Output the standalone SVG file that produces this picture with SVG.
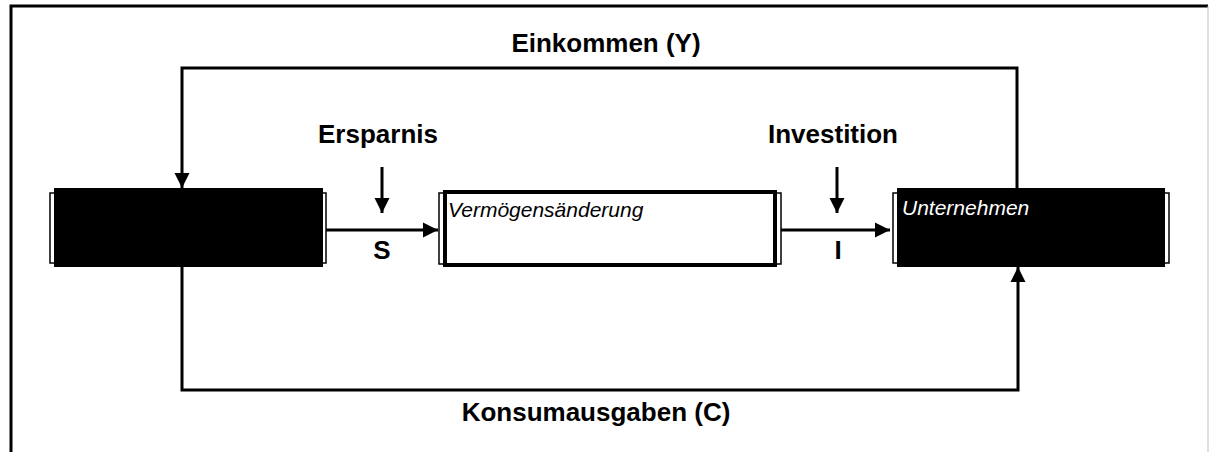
<svg xmlns="http://www.w3.org/2000/svg" width="1209" height="452" viewBox="0 0 1209 452">
<style>
.lbl{font-family:"Liberation Sans",Arial,sans-serif;font-weight:bold;font-size:26px;fill:#000;text-anchor:middle}
.it{font-family:"Liberation Sans",Arial,sans-serif;font-style:italic;font-size:21px}
.ln{fill:none;stroke:#000;stroke-width:3}
.br{fill:#fff;stroke:#000;stroke-width:1.5}
</style>
<defs>
<marker id="ah" markerUnits="userSpaceOnUse" markerWidth="16" markerHeight="16" viewBox="0 0 16 16" refX="15" refY="8" orient="auto">
<path d="M0,0.5 L15,8 L0,15.5 Z" fill="#000"/>
</marker>
</defs>
<rect width="1209" height="452" fill="#fff"/>
<g id="frame">
<path d="M11,452 V6 H1208" fill="none" stroke="#000" stroke-width="3"/>
<line x1="1208" y1="6" x2="1208" y2="452" stroke="#c0c0c0" stroke-width="1"/>
</g>
<g id="haushalte">
<rect class="br" x="50" y="193" width="276" height="70"/>
<rect x="54" y="188" width="269" height="79" fill="#000"/>
</g>
<g id="vermoegen">
<rect class="br" x="439" y="193" width="342" height="71"/>
<rect x="445" y="192" width="330" height="73" fill="#fff" stroke="#000" stroke-width="4"/>
<text class="it" x="448" y="217" fill="#000">Vermögensänderung</text>
</g>
<g id="unternehmen">
<rect class="br" x="893" y="193" width="276" height="70"/>
<rect x="897" y="188" width="268" height="79" fill="#000"/>
<text class="it" x="902" y="215" fill="#fff">Unternehmen</text>
</g>
<g id="connectors">
<path class="ln" d="M1017,188 V68 H182 V188" marker-end="url(#ah)"/>
<path class="ln" d="M182,267 V390 H1018 V267" marker-end="url(#ah)"/>
<path class="ln" d="M326,230 H438" marker-end="url(#ah)"/>
<path class="ln" d="M781,230 H890" marker-end="url(#ah)"/>
<path class="ln" d="M382,167 V213" marker-end="url(#ah)"/>
<path class="ln" d="M837,167 V213" marker-end="url(#ah)"/>
</g>
<g id="labels">
<text class="lbl" x="606" y="52">Einkommen (Y)</text>
<text class="lbl" x="378" y="143">Ersparnis</text>
<text class="lbl" x="833" y="143">Investition</text>
<text class="lbl" x="382" y="259">S</text>
<text class="lbl" x="838" y="259">I</text>
<text class="lbl" x="596" y="421">Konsumausgaben (C)</text>
</g>
</svg>
